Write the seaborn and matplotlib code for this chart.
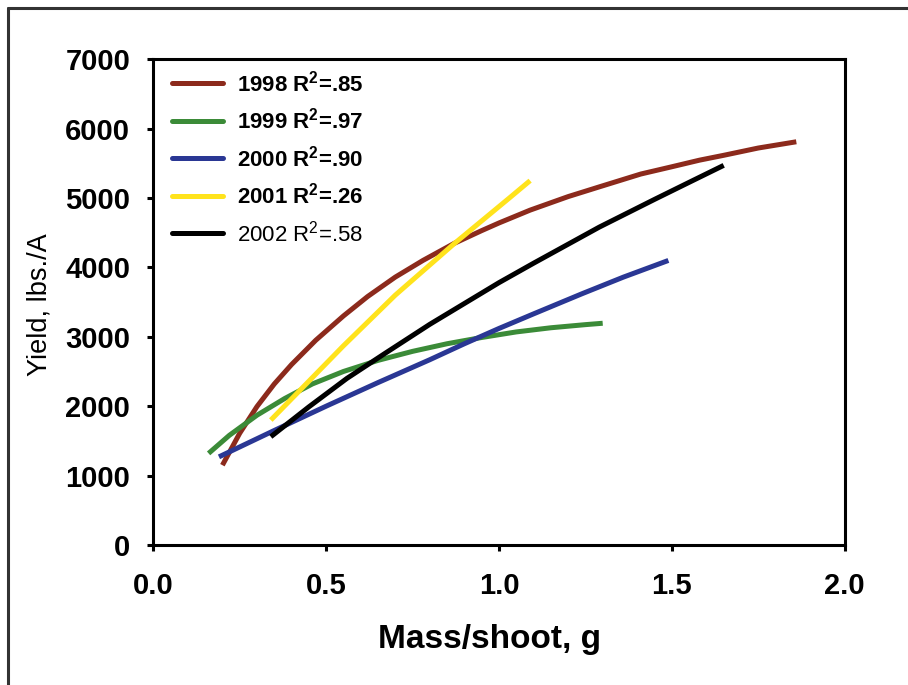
import numpy as np
import pandas as pd
import seaborn as sns
import matplotlib.pyplot as plt
from matplotlib.lines import Line2D

# ------------------------------------------------------------
# Data
# ------------------------------------------------------------
years = ["1998", "1999", "2000", "2001", "2002"]
r2_text = [".85", ".97", ".90", ".26", ".58"]
colors = ["#8c2a1c", "#3b8b38", "#2a3794", "#ffe31c", "#000000"]

mass_1998 = [0.20, 0.25, 0.30, 0.35, 0.40, 0.47, 0.55, 0.62, 0.70, 0.78, 0.87,
             0.95, 1.00, 1.09, 1.20, 1.29, 1.41, 1.50, 1.58, 1.65, 1.75, 1.86]
yield_1998 = [1150, 1610, 1995, 2320, 2600, 2950, 3300, 3580, 3860, 4100, 4345,
              4530, 4640, 4825, 5020, 5160, 5345, 5450, 5545, 5615, 5720, 5810]

mass_1999 = [0.16, 0.22, 0.30, 0.38, 0.46, 0.55, 0.65, 0.75, 0.85, 0.95, 1.05, 1.15, 1.25, 1.30]
yield_1999 = [1320, 1580, 1870, 2110, 2320, 2500, 2660, 2790, 2900, 2990, 3070, 3130, 3175, 3195]

mass_2000 = [0.19, 0.35, 0.50, 0.65, 0.80, 0.90, 1.00, 1.10, 1.24, 1.36, 1.49]
yield_2000 = [1270, 1650, 2000, 2340, 2670, 2900, 3120, 3330, 3620, 3860, 4100]

mass_2001 = [0.34, 0.45, 0.55, 0.70, 0.87, 1.03, 1.09]
yield_2001 = [1800, 2360, 2870, 3600, 4340, 5000, 5250]

mass_2002 = [0.34, 0.45, 0.56, 0.67, 0.80, 0.90, 1.00, 1.10, 1.29, 1.45, 1.56, 1.65]
yield_2002 = [1560, 1990, 2400, 2760, 3180, 3480, 3780, 4060, 4580, 4980, 5250, 5470]

mass = [mass_1998, mass_1999, mass_2000, mass_2001, mass_2002]
yld = [yield_1998, yield_1999, yield_2000, yield_2001, yield_2002]

df = pd.concat([
    pd.DataFrame({"Year": yr, "Mass": m, "Yield": y})
    for yr, m, y in zip(years, mass, yld)
])

# ------------------------------------------------------------
# Plot
# ------------------------------------------------------------
sns.set_style("ticks")
plt.rcParams["font.family"] = ["Liberation Sans", "DejaVu Sans"]
plt.rcParams["mathtext.fontset"] = "custom"
plt.rcParams["mathtext.rm"] = "Liberation Sans"
plt.rcParams["mathtext.bf"] = "Liberation Sans:bold"
for k in ["text.color", "axes.labelcolor", "xtick.color", "ytick.color"]:
    plt.rcParams[k] = "black"

fig = plt.figure(figsize=(9.08, 6.85), dpi=100)
ax = fig.add_axes([0.1688, 0.2044, 0.7615, 0.7092])

sns.lineplot(data=df, x="Mass", y="Yield", hue="Year", palette=colors,
             sort=False, estimator=None, units="Year", linewidth=3.6,
             legend=False, ax=ax)
for ln in ax.get_lines():
    ln.set_solid_capstyle("butt")
    ln.set_solid_joinstyle("round")

ax.set_xlim(0, 2.0)
ax.set_ylim(0, 7000)
ax.set_xticks(np.arange(0, 2.01, 0.5))
ax.set_yticks(np.arange(0, 7001, 1000))
ax.set_xticklabels([f"{v:.1f}" for v in np.arange(0, 2.01, 0.5)])

for sp in ax.spines.values():
    sp.set_linewidth(2.2)
    sp.set_color("black")
ax.tick_params(axis="both", direction="out", length=4.5, width=2.2,
               labelsize=21, colors="black")
ax.tick_params(axis="x", pad=15)
ax.tick_params(axis="y", pad=12)
for lab in ax.get_xticklabels() + ax.get_yticklabels():
    lab.set_fontweight("bold")

ax.set_xlabel("Mass/shoot, g", fontsize=24, fontweight="bold")
ax.xaxis.set_label_coords(0.486, -0.163)
ax.set_ylabel("Yield, lbs./A", fontsize=19.5)
ax.yaxis.set_label_coords(-0.146, 0.494)

# legend
handles = [Line2D([0], [0], color=c, lw=3.6) for c in colors]
labels = []
for i, (yr, r) in enumerate(zip(years, r2_text)):
    if i < 4:
        labels.append(yr + r" R$^{\mathbf{2}}$=" + r)
    else:
        labels.append(yr + r" R$^{2}$=" + r)
leg = ax.legend(handles, labels, loc="upper left", bbox_to_anchor=(0.0105, 1.0),
                frameon=False, fontsize=16, handlelength=2.3,
                handletextpad=0.63, labelspacing=0.52, borderaxespad=0.1)
for i, t in enumerate(leg.get_texts()):
    t.set_fontweight("bold" if i < 4 else "normal")

# outer frame of the scanned figure (left and top edges)
fig.add_artist(Line2D([0.009, 0.009], [0.0, 0.988], transform=fig.transFigure,
                      color="#333333", lw=2.2))
fig.add_artist(Line2D([0.009, 1.0], [0.988, 0.988], transform=fig.transFigure,
                      color="#333333", lw=2.2))

fig.savefig("out.png", dpi=100)
